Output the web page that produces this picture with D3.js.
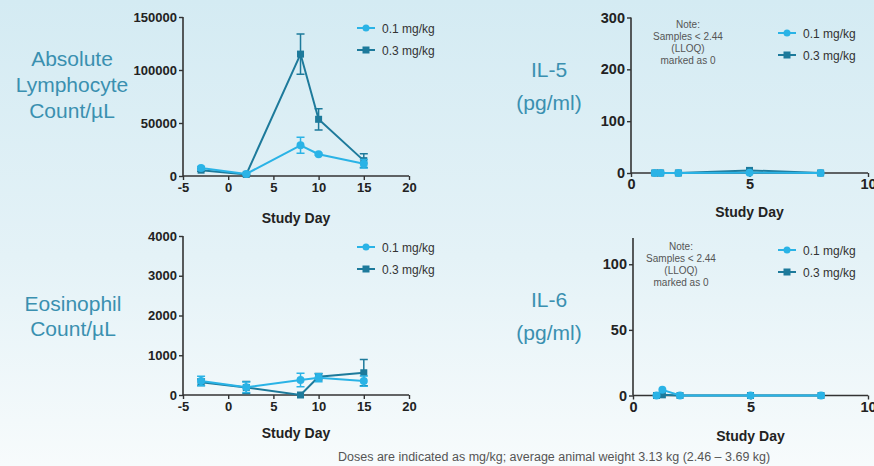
<!DOCTYPE html>
<html><head><meta charset="utf-8">
<script src="https://cdn.jsdelivr.net/npm/d3@7"></script>
<style>
html,body{margin:0;padding:0;}
body{width:874px;height:466px;overflow:hidden;font-family:"Liberation Sans",Arial,sans-serif;}
</style></head>
<body>
<svg id="chart" width="874" height="466"></svg>
<script>
// ---------- DATA ----------
const seriesNames = ["0.1 mg/kg", "0.3 mg/kg"];

// Absolute lymphocyte count (cells/µL)
const lymphDays = [-3, 2, 8, 10, 15];
const lymphLow  = [7500, 2000, 29000, 20500, 11500];
const lymphLowErr = [1500, 500, 7500, 1000, 4000];
const lymphHigh = [5500, 1500, 115000, 53500, 14500];
const lymphHighErr = [1000, 500, 19000, 10000, 6500];

// Eosinophil count (cells/µL)
const eosDays = [-3, 2, 8, 10, 15];
const eosLow  = [350, 195, 375, 435, 350];
const eosLowErr = [120, 130, 170, 100, 130];
const eosHigh = [320, 190, 0, 460, 560];
const eosHighErr = [80, 150, 0, 80, 330];

// IL-5 (pg/ml)
const il5Days = [1, 1.25, 2, 5, 8];
const il5Low  = [0, 0, 0, 0.5, 0];
const il5High = [0, 0, 0, 5, 0];

// IL-6 (pg/ml)
const il6Days = [1, 1.25, 2, 5, 8];
const il6Low  = [0, 4.3, 0, 0, 0];
const il6High = [0, 0.5, 0, 0, 0];

const lymphTicksY = [0, 50000, 100000, 150000];
const eosTicksY = [0, 1000, 2000, 3000, 4000];
const leftTicksX = [-5, 0, 5, 10, 15, 20];
const il5TicksY = [0, 100, 200, 300];
const il6TicksY = [0, 50, 100];
const rightTicksX = [0, 5, 10];

const noteLines = ["Note:", "Samples < 2.44", "(LLOQ)", "marked as 0"];
const footer = "Doses are indicated as mg/kg; average animal weight 3.13 kg (2.46 \u2013 3.69 kg)";

// ---------- STYLE ----------
const colLow = "#2ab3e6";
const colHigh = "#1d7a9b";
const axisCol = "#333";
const titleCol = "#3a90b0";

const svg = d3.select("#chart");
const defs = svg.append("defs");
const grad = defs.append("linearGradient").attr("id","bg").attr("x1",0).attr("y1",0).attr("x2",0).attr("y2",1);
grad.append("stop").attr("offset","0%").attr("stop-color","#d4ebf3");
grad.append("stop").attr("offset","55%").attr("stop-color","#e4f2f7");
grad.append("stop").attr("offset","100%").attr("stop-color","#f7fbfc");
svg.append("rect").attr("width",874).attr("height",466).attr("fill","url(#bg)");

const fmt = d => String(d);

function panel(cfg) {
  const g = svg.append("g");
  const x = d3.scaleLinear().domain(cfg.xDomain).range([cfg.x0, cfg.x1]);
  const y = d3.scaleLinear().domain(cfg.yDomain).range([cfg.y0, cfg.y1]);

  const xAxis = g.append("g").attr("transform", `translate(0,${cfg.y0})`)
    .call(d3.axisBottom(x).tickValues(cfg.xTicks).tickSize(4).tickPadding(cfg.xPad || 3).tickFormat(fmt));
  const yAxis = g.append("g").attr("transform", `translate(${cfg.x0},0)`)
    .call(d3.axisLeft(y).tickValues(cfg.yTicks).tickSize(4).tickPadding(2).tickFormat(fmt));
  [xAxis, yAxis].forEach(a => {
    a.select(".domain").attr("stroke", axisCol).attr("stroke-width", 1.6);
    a.selectAll(".tick line").attr("stroke", axisCol).attr("stroke-width", 1.4);
    a.selectAll("text").attr("fill", "#222").attr("font-family", "Liberation Sans, Arial, sans-serif")
      .attr("font-weight", "bold").attr("font-size", cfg.tickFont || 13);
  });
  yAxis.select(".domain").attr("d", `M-0,${cfg.y0}V${cfg.y1}`);
  xAxis.select(".domain").attr("d", `M${cfg.x0},0H${cfg.x1}`);

  g.append("text").attr("x", (cfg.x0 + cfg.x1) / 2).attr("y", cfg.xLabelY).attr("text-anchor", "middle")
    .attr("font-size", 14).attr("font-weight", "bold").attr("fill", "#222").text("Study Day");

  // title
  const t = g.append("text").attr("text-anchor", "middle").attr("fill", titleCol)
    .attr("font-size", cfg.titleSize).attr("font-family", "Liberation Sans, Arial, sans-serif");
  cfg.title.forEach((s, i) => t.append("tspan").attr("x", cfg.titleX).attr("y", cfg.titleY + i * cfg.titleLH).text(s));

  // note
  if (cfg.note) {
    const n = g.append("text").attr("text-anchor", "middle").attr("fill", "#555").attr("font-size", 10);
    noteLines.forEach((s, i) => n.append("tspan").attr("x", cfg.noteX).attr("y", cfg.noteY + i * 12).text(s));
  }

  const line = d3.line().x(d => x(d[0])).y(d => y(d[1]));
  const series = [
    {vals: cfg.high, err: cfg.highErr, col: colHigh, shape: "square"},
    {vals: cfg.low, err: cfg.lowErr, col: colLow, shape: "circle"}
  ];
  series.forEach(s => {
    const pts = cfg.days.map((d, i) => [d, s.vals[i], s.err ? s.err[i] : 0]);
    g.append("path").datum(pts).attr("d", line).attr("fill", "none").attr("stroke", s.col).attr("stroke-width", 2);
    pts.forEach(p => {
      if (p[2] > 0) {
        const cx = x(p[0]), yt = y(p[1] + p[2]), yb = y(Math.max(0, p[1] - p[2]));
        g.append("path").attr("d", `M${cx},${yt}V${yb}M${cx-4},${yt}H${cx+4}M${cx-4},${yb}H${cx+4}`)
          .attr("stroke", s.col).attr("stroke-width", 1.5).attr("fill", "none");
      }
    });
    pts.forEach(p => {
      if (s.shape === "circle") {
        g.append("circle").attr("cx", x(p[0])).attr("cy", y(p[1])).attr("r", 4).attr("fill", s.col);
      } else {
        g.append("rect").attr("x", x(p[0]) - 3.5).attr("y", y(p[1]) - 3.5).attr("width", 7).attr("height", 7).attr("fill", s.col);
      }
    });
  });

  // legend
  const leg = [{name: seriesNames[0], col: colLow, shape: "circle"}, {name: seriesNames[1], col: colHigh, shape: "square"}];
  leg.forEach((l, i) => {
    const ly = cfg.legY + i * 22;
    g.append("line").attr("x1", cfg.legX).attr("x2", cfg.legX + 18).attr("y1", ly).attr("y2", ly)
      .attr("stroke", l.col).attr("stroke-width", 2);
    if (l.shape === "circle") g.append("circle").attr("cx", cfg.legX + 9).attr("cy", ly).attr("r", 3.5).attr("fill", l.col);
    else g.append("rect").attr("x", cfg.legX + 5.5).attr("y", ly - 3.5).attr("width", 7).attr("height", 7).attr("fill", l.col);
    g.append("text").attr("x", cfg.legX + 25).attr("y", ly + 4.5).attr("font-size", 12).attr("fill", "#333").text(l.name);
  });
}

panel({
  xDomain: [-5, 20], yDomain: [0, 150000], x0: 183, x1: 409, y0: 176, y1: 17,
  xTicks: leftTicksX, yTicks: lymphTicksY, xLabelY: 223,
  days: lymphDays, low: lymphLow, lowErr: lymphLowErr, high: lymphHigh, highErr: lymphHighErr,
  title: ["Absolute", "Lymphocyte", "Count/\u00b5L"], titleX: 72, titleY: 66, titleLH: 26, titleSize: 21,
  legX: 357, legY: 28
});
panel({
  xDomain: [-5, 20], yDomain: [0, 4000], x0: 183, x1: 409, y0: 395, y1: 236,
  xTicks: leftTicksX, yTicks: eosTicksY, xLabelY: 438,
  days: eosDays, low: eosLow, lowErr: eosLowErr, high: eosHigh, highErr: eosHighErr,
  title: ["Eosinophil", "Count/\u00b5L"], titleX: 73, titleY: 311, titleLH: 25, titleSize: 21,
  legX: 357, legY: 247
});
panel({
  xDomain: [0, 10], yDomain: [0, 300], x0: 631, x1: 868, y0: 173, y1: 17.5,
  xTicks: rightTicksX, yTicks: il5TicksY, xLabelY: 217, tickFont: 14.5, xPad: 2,
  days: il5Days, low: il5Low, high: il5High,
  title: ["IL-5", "(pg/ml)"], titleX: 549, titleY: 77, titleLH: 33, titleSize: 21,
  note: true, noteX: 688, noteY: 28,
  legX: 778, legY: 33
});
panel({
  xDomain: [0, 10], yDomain: [0, 120], x0: 633, x1: 868, y0: 395.5, y1: 238,
  xTicks: rightTicksX, yTicks: il6TicksY, xLabelY: 441, tickFont: 14.5, xPad: 2,
  days: il6Days, low: il6Low, high: il6High,
  title: ["IL-6", "(pg/ml)"], titleX: 549, titleY: 307, titleLH: 33, titleSize: 21,
  note: true, noteX: 681, noteY: 250,
  legX: 778, legY: 250
});

svg.append("text").attr("x", 338).attr("y", 461).attr("font-size", 12.5).attr("fill", "#555").text(footer);
</script>
</body></html>
